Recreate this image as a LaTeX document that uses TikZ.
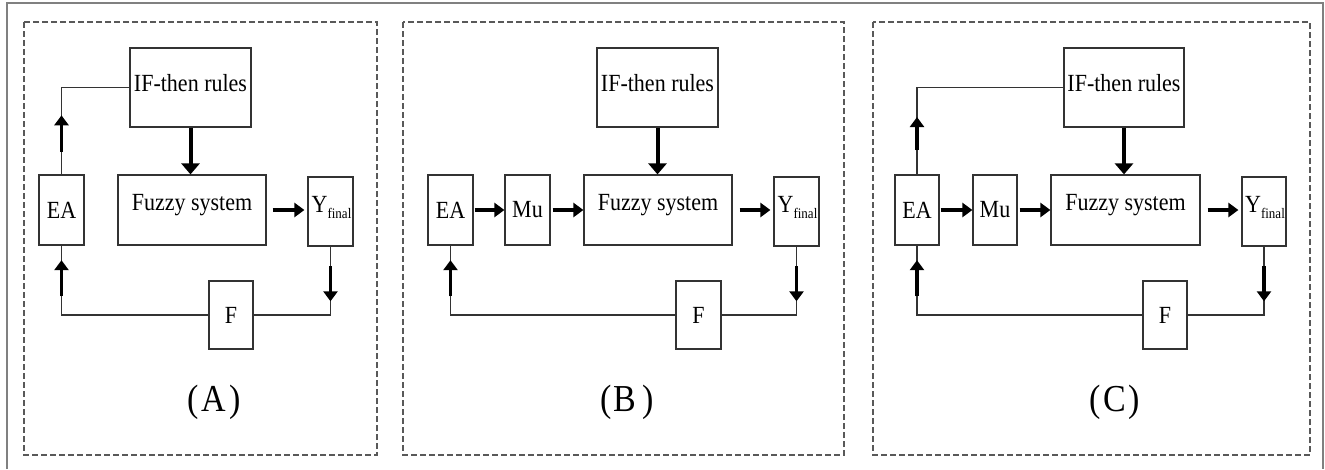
\documentclass[tikz,border=0pt]{standalone}
\usepackage{fontspec}
\setmainfont{Liberation Serif}
\usetikzlibrary{arrows.meta,calc}
\begin{document}
\begin{tikzpicture}[x=1pt,y=-1pt,
  blk/.style={draw=black!80, line width=1.2pt, inner sep=0pt},
  txt/.style={font=\fontsize{22}{24}\selectfont, inner sep=0pt},
  wire/.style={draw=black!80, line width=1.1pt},
  fat/.style={line width=3.5pt, -{Triangle[width=14pt,length=10pt]}},
  bigfat/.style={line width=4pt, -{Triangle[width=18pt,length=11pt]}},
  panel/.style={draw=black!65, line width=1.3pt, dash pattern=on 6pt off 3pt},
  capt/.style={font=\fontsize{34}{38}\selectfont, inner sep=0pt}
]
\useasboundingbox (0,0) rectangle (1325,469);
% outer frame (open at bottom)
\draw[black!50, line width=1.6pt] (7,469) -- (7,3) -- (1323,3) -- (1323,469);

\newcommand{\yfin}{\scalebox{1}[1.12]{Y\raisebox{-5pt}{\fontsize{13}{14}\selectfont final}}}
\newcommand{\st}[1]{\scalebox{1}[1.12]{#1}}

% ================= Panel A =================
\draw[panel] (24,22) rectangle (377,455);
\node[blk, minimum width=121pt, minimum height=79pt] (ifA) at (190.5,87.5) {};
\node[txt] (ifAt) at ($(ifA.center)+(0,-4)$) {\st{IF-then rules}};
\node[blk, minimum width=148pt, minimum height=70pt] (fzA) at (192,210) {};
\node[txt] (fzAt) at ($(fzA.center)+(0,-5)$) {\st{Fuzzy system}};
\node[blk, txt, minimum width=45pt, minimum height=70pt] (eaA) at (61.5,210) {\st{EA}};
\node[blk, minimum width=45pt, minimum height=69pt] (yA) at (330.5,211.5) {};
\node[txt] (yAt) at ($(yA.center)+(1,-4)$) {\yfin};
\node[blk, txt, minimum width=44pt, minimum height=68pt] (fA) at (231,315) {\st{F}};
\node[capt] (capA) at (214,402) {\st{(\hspace{3pt}A\hspace{3pt})}};

\draw[bigfat] (ifA.south) -- (ifA.south |- fzA.north);
\draw[fat, shorten <=6pt, shorten >=3pt] (fzA.east) -- (fzA.east -| yA.west);
\draw[wire] (ifA.west) -| (eaA.north);
\path (eaA.north) -- (eaA.north |- ifA.west) coordinate[pos=0.26] (a1) coordinate[pos=0.68] (a2);
\draw[fat] (a1) -- (a2);
\draw[wire] (fA.west) -| (eaA.south);
\path (eaA.south |- fA.west) -- (eaA.south) coordinate[pos=0.27] (a3) coordinate[pos=0.79] (a4);
\draw[fat] (a3) -- (a4);
\draw[wire] (yA.south) |- (fA.east);
\path (yA.south) -- (yA.south |- fA.east) coordinate[pos=0.29] (a5) coordinate[pos=0.80] (a6);
\draw[fat] (a5) -- (a6);

% ================= Panel B =================
\draw[panel] (403,22) rectangle (844,455);
\node[blk, minimum width=121pt, minimum height=79pt] (ifB) at (657.5,87.5) {};
\node[txt] (ifBt) at ($(ifB.center)+(0,-4)$) {\st{IF-then rules}};
\node[blk, minimum width=148pt, minimum height=70pt] (fzB) at (658,210) {};
\node[txt] (fzBt) at ($(fzB.center)+(0,-5)$) {\st{Fuzzy system}};
\node[blk, txt, minimum width=45pt, minimum height=70pt] (eaB) at (450.5,210) {\st{EA}};
\node[blk, txt, minimum width=45pt, minimum height=70pt] (muB) at (527.5,210) {\st{Mu}};
\node[blk, minimum width=45pt, minimum height=69pt] (yB) at (796.5,211.5) {};
\node[txt] (yBt) at ($(yB.center)+(1,-4)$) {\yfin};
\node[blk, txt, minimum width=45pt, minimum height=68pt] (fB) at (698.5,315) {\st{F}};
\node[capt] (capB) at (627,402) {\st{(\hspace{2pt}B\hspace{6pt})}};

\draw[bigfat] (ifB.south) -- (ifB.south |- fzB.north);
\draw[fat, shorten <=1pt] (eaB.east) -- (muB.west);
\draw[fat, shorten <=2pt] (muB.east) -- (fzB.west |- muB.east);
\draw[fat, shorten <=7pt, shorten >=3pt] (fzB.east) -- (fzB.east -| yB.west);
\draw[wire] (fB.west) -| (eaB.south);
\path (eaB.south |- fB.west) -- (eaB.south) coordinate[pos=0.27] (b3) coordinate[pos=0.79] (b4);
\draw[fat] (b3) -- (b4);
\draw[wire] (yB.south) |- (fB.east);
\path (yB.south) -- (yB.south |- fB.east) coordinate[pos=0.29] (b5) coordinate[pos=0.80] (b6);
\draw[fat] (b5) -- (b6);

% ================= Panel C =================
\draw[panel] (873,22) rectangle (1310,455);
\node[blk, minimum width=120pt, minimum height=79pt] (ifC) at (1124,87.5) {};
\node[txt] (ifCt) at ($(ifC.center)+(0,-4)$) {\st{IF-then rules}};
\node[blk, minimum width=149pt, minimum height=70pt] (fzC) at (1125.5,210) {};
\node[txt] (fzCt) at ($(fzC.center)+(0,-5)$) {\st{Fuzzy system}};
\node[blk, txt, minimum width=44pt, minimum height=70pt] (eaC) at (917,210) {\st{EA}};
\node[blk, txt, minimum width=44pt, minimum height=70pt] (muC) at (995,210) {\st{Mu}};
\node[blk, minimum width=44pt, minimum height=69pt] (yC) at (1264,211.5) {};
\node[txt] (yCt) at ($(yC.center)+(1,-4)$) {\yfin};
\node[blk, txt, minimum width=44pt, minimum height=68pt] (fC) at (1165,315) {\st{F}};
\node[capt] (capC) at (1115,402) {\st{(\hspace{2pt}C\hspace{3pt})}};

\draw[bigfat] (ifC.south) -- (ifC.south |- fzC.north);
\draw[fat, shorten <=1pt] (eaC.east) -- (muC.west);
\draw[fat, shorten <=2pt] (muC.east) -- (fzC.west |- muC.east);
\draw[fat, shorten <=7pt, shorten >=3pt] (fzC.east) -- (fzC.east -| yC.west);
\draw[wire] (ifC.west) -| (eaC.north);
\path (eaC.north) -- (eaC.north |- ifC.west) coordinate[pos=0.28] (c1) coordinate[pos=0.66] (c2);
\draw[fat] (c1) -- (c2);
\draw[wire] (fC.west) -| (eaC.south);
\path (eaC.south |- fC.west) -- (eaC.south) coordinate[pos=0.27] (c3) coordinate[pos=0.79] (c4);
\draw[fat] (c3) -- (c4);
\draw[wire] (yC.south) |- (fC.east);
\path (yC.south) -- (yC.south |- fC.east) coordinate[pos=0.29] (c5) coordinate[pos=0.80] (c6);
\draw[fat] (c5) -- (c6);
\end{tikzpicture}
\end{document}
